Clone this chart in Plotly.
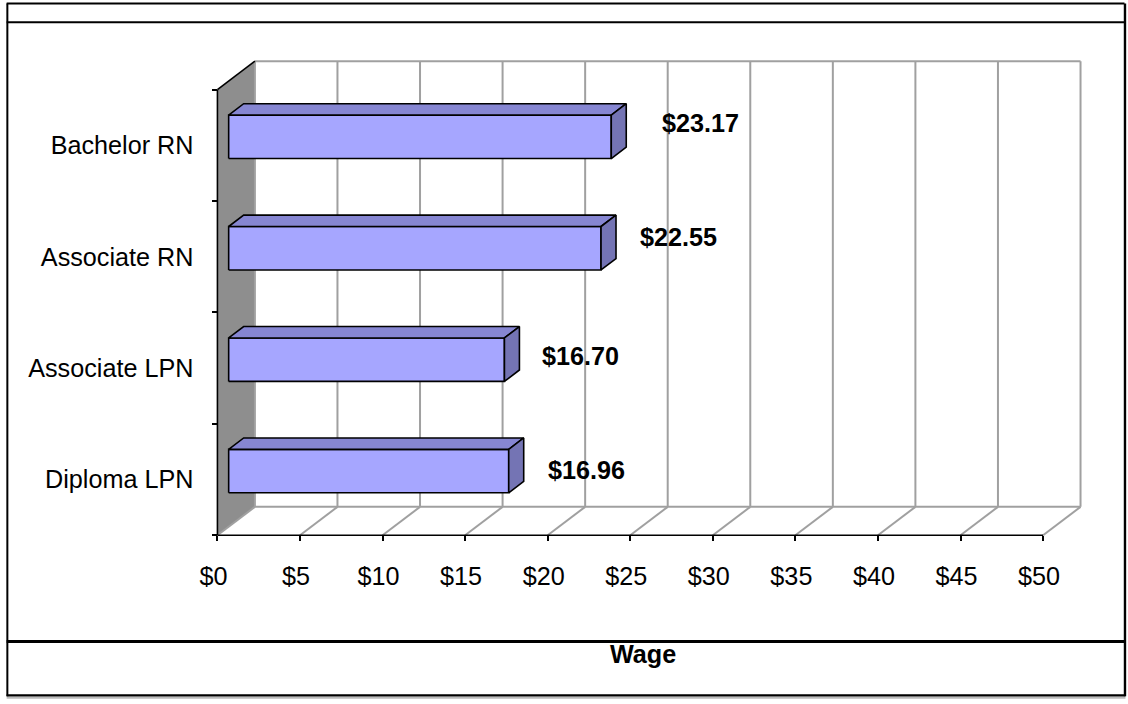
import plotly.graph_objects as go

# ---------------- data ----------------
CATEGORIES = ["Bachelor RN", "Associate RN", "Associate LPN", "Diploma LPN"]
WAGES = [23.17, 22.55, 16.70, 16.96]
VALUE_LABELS = ["$23.17", "$22.55", "$16.70", "$16.96"]
X_TICKS = [0, 5, 10, 15, 20, 25, 30, 35, 40, 45, 50]
X_TICK_LABELS = ["$0", "$5", "$10", "$15", "$20", "$25", "$30", "$35", "$40", "$45", "$50"]
AXIS_TITLE = "Wage"

# ---------------- geometry / style ----------------
W, H = 1128, 704
PX_PER_USD = 16.53
PX_PER_SLOT = 111.6
X0_PX, Y0_PX = 217.0, 535.7          # pixel of ($0, slot 0) on the front plane
XR = [-0.45, 52.6]
YR = [-0.06, 4.32]
DX = 37.5 / PX_PER_USD               # depth offset (x) of the 3D box
DY = 28.5 / PX_PER_SLOT              # depth offset (y)
D1, D2 = 0.30, 0.70                  # bar depth range
BAR_LO, BAR_HI = 0.305, 0.695        # bar extent inside a slot
NSLOT = len(CATEGORIES)

ml = X0_PX + XR[0] * PX_PER_USD
mr = W - (X0_PX + XR[1] * PX_PER_USD)
mb = H - (Y0_PX - YR[0] * PX_PER_SLOT)
mt = Y0_PX - YR[1] * PX_PER_SLOT
PW, PH = W - ml - mr, H - mt - mb

FRONT = "#A6A6FF"
TOP = "#8686D2"
SIDE = "#7474B4"
WALL = "#8E8E8E"
GRID = "#A0A0A0"
FONT = "Arial, Liberation Sans, sans-serif"
FS = 25.2

# label fine adjustments in pixels (dx, dy)
LABEL_NUDGE = [(10, 14), (-2, 11), (-3, 4), (-2, 1)]


def px2paper(px, py):
    return (px - ml) / PW, 1 - (py - mt) / PH


fig = go.Figure()
shapes = []


def line(x0, y0, x1, y1, color, width, ref="data", layer="below"):
    d = dict(type="line", x0=x0, y0=y0, x1=x1, y1=y1,
             line=dict(color=color, width=width), layer=layer)
    if ref == "paper":
        d.update(xref="paper", yref="paper")
    else:
        d.update(xref="x", yref="y")
    shapes.append(d)


# left side wall
shapes.append(dict(type="path", xref="x", yref="y", layer="below",
                   path=f"M 0 0 L 0 {NSLOT} L {DX} {NSLOT + DY} L {DX} {DY} Z",
                   fillcolor=WALL, line=dict(width=0)))

# back-wall vertical grid lines and floor lines
for t in X_TICKS:
    line(t + DX, DY, t + DX, NSLOT + DY, GRID, 2)
    line(t, 0, t + DX, DY, GRID, 2)
line(DX, NSLOT + DY, X_TICKS[-1] + DX, NSLOT + DY, GRID, 2)
line(DX, DY, X_TICKS[-1] + DX, DY, GRID, 2)

# axes lines (front)
line(0, 0, 0, NSLOT, "black", 1.6)
line(0, NSLOT, DX, NSLOT + DY, "black", 1.6)
line(0, 0, X_TICKS[-1], 0, "black", 1.6)

# bars as 3D boxes
for i, (cat, v) in enumerate(zip(CATEGORIES, WAGES)):
    k = NSLOT - 1 - i
    lo, hi = k + BAR_LO, k + BAR_HI
    fx0, fx1 = D1 * DX, v + D1 * DX
    bx0, bx1 = D2 * DX, v + D2 * DX
    fy = D1 * DY
    by = D2 * DY
    faces = [
        ([fx0, fx1, fx1, fx0, fx0], [lo + fy, lo + fy, hi + fy, hi + fy, lo + fy], FRONT),
        ([fx0, bx0, bx1, fx1, fx0], [hi + fy, hi + by, hi + by, hi + fy, hi + fy], TOP),
        ([fx1, bx1, bx1, fx1, fx1], [lo + fy, lo + by, hi + by, hi + fy, lo + fy], SIDE),
    ]
    for xs, ys, col in faces:
        fig.add_trace(go.Scatter(x=xs, y=ys, mode="lines", fill="toself",
                                 fillcolor=col, line=dict(color="black", width=1.6),
                                 hoverinfo="skip", showlegend=False))

# value labels
annotations = []
for i, (v, lab) in enumerate(zip(WAGES, VALUE_LABELS)):
    k = NSLOT - 1 - i
    nx, ny = LABEL_NUDGE[i]
    annotations.append(dict(
        xref="x", yref="y", x=v + D2 * DX, y=k + 0.5 + D1 * DY,
        xshift=24 + nx, yshift=ny, xanchor="left", yanchor="middle",
        text=f"<b>{lab}</b>", showarrow=False,
        font=dict(family=FONT, size=FS, color="black")))

# axis title
tx, ty = px2paper(643, 655)
annotations.append(dict(xref="paper", yref="paper", x=tx, y=ty,
                        xanchor="center", yanchor="middle",
                        text=f"<b>{AXIS_TITLE}</b>", showarrow=False,
                        font=dict(family=FONT, size=FS, color="black")))

# outer table frame
for (a, b, c, d, w, col) in [
    (6, 3, 1125, 3, 2, "black"),
    (6, 21.8, 1125, 21.8, 2.2, "black"),
    (6.7, 3, 6.7, 697, 2, "black"),
    (1125.5, 3, 1125.5, 697, 2.4, "black"),
    (6, 642, 1126, 642, 3, "black"),
    (6, 698.3, 1126, 698.3, 2, "#BBBBBB"),
    (6, 696, 1126, 696, 2.2, "black"),
]:
    p0 = px2paper(a, b)
    p1 = px2paper(c, d)
    line(p0[0], p0[1], p1[0], p1[1], col, w, ref="paper", layer="above")

# invisible trace to activate the tick-mark axis
fig.add_trace(go.Scatter(x=[0], y=[0], yaxis="y2", mode="markers",
                         marker=dict(opacity=0), hoverinfo="skip", showlegend=False))

xpos = (0 - YR[0]) / (YR[1] - YR[0])
ypos = (0 - XR[0]) / (XR[1] - XR[0])

fig.update_layout(
    width=W, height=H,
    margin=dict(l=ml, r=mr, t=mt, b=mb, pad=0),
    paper_bgcolor="white", plot_bgcolor="rgba(0,0,0,0)",
    showlegend=False,
    shapes=shapes,
    annotations=annotations,
    xaxis=dict(range=XR, anchor="free", position=xpos,
               tickmode="array", tickvals=X_TICKS, ticktext=X_TICK_LABELS,
               ticks="outside", ticklen=5, tickwidth=1.6, tickcolor="black",
               ticklabelstandoff=13, ticklabelshift=-4,
               showgrid=False, zeroline=False, showline=False,
               tickfont=dict(family=FONT, size=FS, color="black"),
               fixedrange=True),
    yaxis=dict(range=YR, anchor="free", position=ypos,
               tickmode="array", tickvals=[NSLOT - 1 - i + 0.5 for i in range(NSLOT)],
               ticktext=CATEGORIES, ticks="", ticklabelstandoff=24,
               showgrid=False, zeroline=False, showline=False,
               tickfont=dict(family=FONT, size=FS, color="black"),
               fixedrange=True),
    yaxis2=dict(range=YR, anchor="free", position=ypos, overlaying="y", side="left",
                tickmode="array", tickvals=list(range(NSLOT + 1)),
                ticks="outside", ticklen=5, tickwidth=1.6, tickcolor="black",
                showticklabels=False, showgrid=False, zeroline=False, showline=False,
                fixedrange=True),
)

fig.write_html("out.html", config={"displayModeBar": False},
               post_script="document.body.style.margin='0';document.body.style.overflow='hidden';")
